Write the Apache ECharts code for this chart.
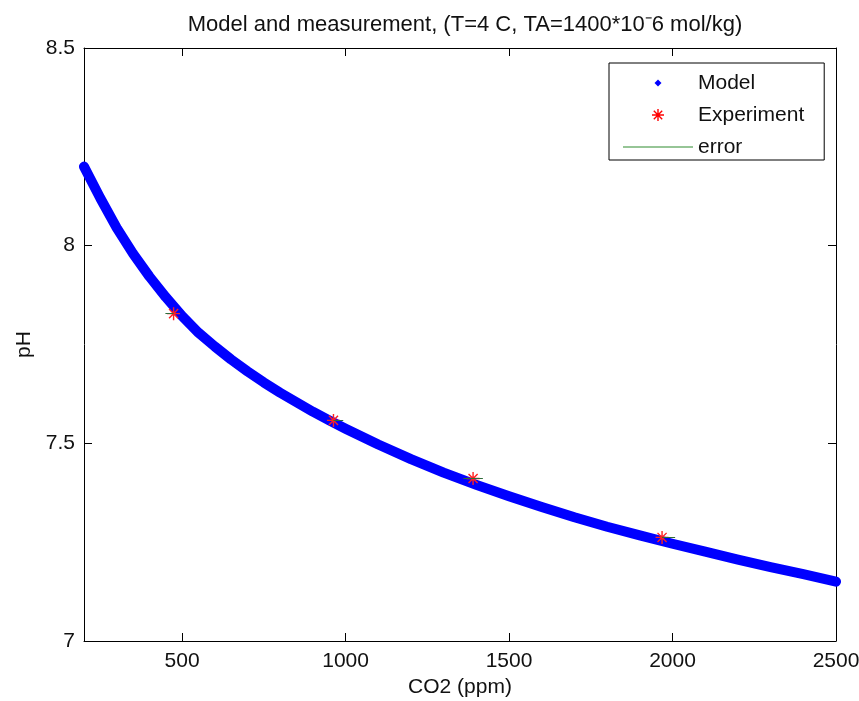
<!DOCTYPE html>
<html lang="en">
<head>
    <meta charset="UTF-8">
    <title>pH model</title>
    <script src="https://cdn.jsdelivr.net/npm/echarts@6/dist/echarts.min.js"></script>
    <style>
        html, body { margin: 0; padding: 0; background: #fff; }
    </style>
</head>
<body>
<div id="main" style="width: 859px;height:701px;"></div>
<script>
    // values
    const co2Model = [200, 250, 300, 350, 400, 450, 500, 550, 600, 650, 700, 750, 800, 850, 900, 950, 1000,
        1100, 1200, 1300, 1400, 1500, 1600, 1700, 1800, 1900, 2000, 2100, 2200, 2300, 2400, 2500];
    const phModel = [8.200, 8.120, 8.045, 7.980, 7.922, 7.870, 7.822, 7.780, 7.745, 7.712, 7.682, 7.654,
        7.628, 7.604, 7.580, 7.558, 7.537, 7.497, 7.460, 7.426, 7.395, 7.366, 7.339, 7.313, 7.289, 7.267,
        7.246, 7.226, 7.206, 7.187, 7.169, 7.150];
    const co2Exp = [474, 963, 1390, 1968];
    const phExp = [7.828, 7.558, 7.411, 7.262];
    const errLeft = [25, 0, 30, 0];
    const errRight = [0, 30, 30, 40];
    const xTicks = [500, 1000, 1500, 2000, 2500];
    const yTicks = [7, 7.5, 8, 8.5];

    const font = 'Liberation Sans, Arial, sans-serif';

    function svgIcon(body) {
        let svg = '<svg xmlns="http://www.w3.org/2000/svg" width="70" height="14">' + body + '</svg>';
        return 'image://data:image/svg+xml;charset=utf-8,' + encodeURIComponent(svg);
    }
    const iconModel = svgIcon('<path d="M35 3.5 L38.5 7 L35 10.5 L31.5 7 Z" fill="#0000ff"/>');
    const iconStar = svgIcon('<g stroke="#ff0000" stroke-width="1.4"><path d="M35 1 V13 M29 7 H41 M30.8 2.8 L39.2 11.2 M30.8 11.2 L39.2 2.8"/></g>');
    const iconErr = svgIcon('<path d="M0 7 H70" stroke="#2e8b2e" stroke-width="1.2"/>');

    const starPath = 'path://M0,-10 L0,10 M-10,0 L10,0 M-7,-7 L7,7 M-7,7 L7,-7';

    let modelData = co2Model.map(function (x, i) { return [x, phModel[i]]; });
    let expData = co2Exp.map(function (x, i) { return [x, phExp[i]]; });
    let errData = co2Exp.map(function (x, i) {
        return {coords: [[x - errLeft[i], phExp[i]], [x + errRight[i], phExp[i]]]};
    });

    let plain = function (v) { return String(v); };

    let myChart = echarts.init(document.getElementById('main'));
    let axisLine = {show: true, onZero: false, lineStyle: {color: '#000', width: 1}};
    let option = {
        animation: false,
        backgroundColor: '#fff',
        title: {
            text: 'Model and measurement, (T=4 C, TA=1400*10\u207B6 mol/kg)',
            left: 460,
            top: 9,
            textAlign: 'center',
            textStyle: {fontFamily: font, fontSize: 22, fontWeight: 'normal', color: '#111'}
        },
        legend: {
            left: 609,
            top: 63,
            orient: 'vertical',
            selectedMode: false,
            itemWidth: 70,
            itemHeight: 14,
            itemGap: 8,
            itemSymbolKeepAspect: false,
            padding: [8, 20, 1, 14],
            borderColor: '#000',
            borderWidth: 1,
            backgroundColor: '#fff',
            textStyle: {fontFamily: font, fontSize: 21, color: '#111', lineHeight: 24},
            data: [
                {name: 'Model', icon: iconModel},
                {name: 'Experiment', icon: iconStar},
                {name: 'error', icon: iconErr}
            ]
        },
        grid: {left: 84, right: 23, top: 48, bottom: 60, outerBoundsMode: 'none', containLabel: false},
        xAxis: [
            {
                type: 'value', min: 200, max: 2500, position: 'bottom',
                name: 'CO2 (ppm)', nameLocation: 'middle', nameGap: 36,
                nameTextStyle: {fontFamily: font, fontSize: 21, color: '#111'},
                axisLine: axisLine,
                axisTick: {inside: true, length: 8, customValues: xTicks, lineStyle: {color: '#000'}},
                axisLabel: {customValues: xTicks, formatter: plain, margin: 10, fontFamily: font, fontSize: 21, color: '#111'},
                splitLine: {show: false}
            },
            {
                type: 'value', min: 200, max: 2500, position: 'top',
                axisLine: axisLine,
                axisTick: {inside: true, length: 8, customValues: xTicks, lineStyle: {color: '#000'}},
                axisLabel: {show: false},
                splitLine: {show: false}
            }
        ],
        yAxis: [
            {
                type: 'value', min: 7, max: 8.5, interval: 0.5, position: 'left',
                name: 'pH', nameLocation: 'middle', nameGap: 44,
                nameTextStyle: {fontFamily: font, fontSize: 21, color: '#111'},
                axisLine: axisLine,
                axisTick: {inside: true, length: 8, customValues: yTicks, lineStyle: {color: '#000'}},
                axisLabel: {customValues: yTicks, formatter: plain, margin: 9, fontFamily: font, fontSize: 21, color: '#111'},
                splitLine: {show: false}
            },
            {
                type: 'value', min: 7, max: 8.5, interval: 0.5, position: 'right',
                axisLine: axisLine,
                axisTick: {inside: true, length: 8, customValues: yTicks, lineStyle: {color: '#000'}},
                axisLabel: {show: false},
                splitLine: {show: false}
            }
        ],
        series: [
            {
                name: 'Model',
                type: 'line',
                data: modelData,
                smooth: false,
                symbol: 'none',
                clip: true,
                lineStyle: {color: '#0000ff', width: 10, cap: 'round', join: 'round'},
                itemStyle: {color: '#0000ff'},
                z: 2
            },
            {
                name: 'Experiment',
                type: 'scatter',
                data: expData,
                symbol: starPath,
                symbolSize: 13,
                itemStyle: {color: 'rgba(0,0,0,0)', borderColor: '#ff2020', borderWidth: 1.4, opacity: 1},
                z: 3
            },
            {
                name: 'error',
                type: 'lines',
                coordinateSystem: 'cartesian2d',
                data: errData,
                lineStyle: {color: '#2e6b3a', width: 1, opacity: 1},
                z: 4
            }
        ]
    };
    myChart.setOption(option);
</script>
</body>
</html>
